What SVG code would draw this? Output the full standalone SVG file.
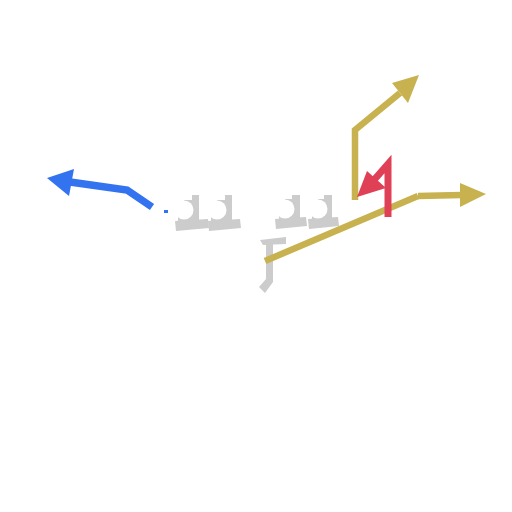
<svg xmlns="http://www.w3.org/2000/svg" width="512" height="512" viewBox="0 0 512 512">
<style>
.g{fill:#cccccc}
.w{fill:#ffffff}
.ln{fill:none;stroke-linejoin:miter;stroke-linecap:butt}
.gold{stroke:#c8b14f;stroke-width:6.5}
.goldf{fill:#c8b14f}
.blue{stroke:#3373f0;stroke-width:7.5}
.bluef{fill:#3373f0}
.red{stroke:#e04055;stroke-width:7}
.redf{fill:#e04055}
</style>
<rect width="512" height="512" fill="#ffffff"/>
<g id="glyphs">
  <g id="block1">
    <rect class="g" x="184" y="200" width="15" height="22"/>
    <rect class="g" x="178" y="214" width="21" height="8"/>
    <rect class="g" x="192" y="195" width="7" height="27"/>
    <polygon class="g" points="175,221 208,219 209,228 176,231"/>
    <circle class="w" cx="184" cy="210" r="9.5"/>
  </g>
  <g id="block2">
    <rect class="g" x="217" y="200" width="15" height="22"/>
    <rect class="g" x="211" y="214" width="21" height="8"/>
    <rect class="g" x="225" y="195" width="7" height="27"/>
    <polygon class="g" points="208,221 240,219 241,228 209,231"/>
    <circle class="w" cx="217" cy="210" r="9.5"/>
  </g>
  <g id="block3">
    <rect class="g" x="285" y="199" width="15" height="21"/>
    <rect class="g" x="279" y="212" width="21" height="8"/>
    <rect class="g" x="292" y="195" width="8" height="25"/>
    <polygon class="g" points="275,219 306,217 307,226 276,229"/>
    <circle class="w" cx="285" cy="209" r="9.5"/>
  </g>
  <g id="block4">
    <rect class="g" x="318" y="199" width="14" height="21"/>
    <rect class="g" x="312" y="212" width="20" height="8"/>
    <rect class="g" x="324" y="195" width="8" height="25"/>
    <polygon class="g" points="308,219 338,217 339,226 309,229"/>
    <circle class="w" cx="318" cy="209" r="9.5"/>
  </g>
  <g id="glyph-f">
    <polygon class="g" points="260,240 286,237 286,244 263,245"/>
    <polygon class="g" points="266,243 273,243 273,282 265,293 259,287 266,279"/>
  </g>
</g>
<g id="connectors">
  <polyline class="ln blue" points="152,207 127,190 70,182"/>
  <polygon class="bluef" points="47,178 74,169 69,196"/>
  <circle class="w" cx="166" cy="217" r="9"/>
  <rect class="bluef" x="164" y="210" width="4" height="3"/>
  <line class="ln gold" x1="265" y1="261" x2="418" y2="196"/>
  <polyline class="ln gold" points="418,196 462,195"/>
  <polygon class="goldf" points="486,194 460,183 460,207"/>
  <polyline class="ln gold" points="355,200 355,130 400,93"/>
  <polygon class="goldf" points="419,75 392,83 408,103"/>
  <polyline class="ln red" points="388,217 388,164 374,180"/>
  <polygon class="redf" points="357,197 367,171 386,188"/>
</g>
</svg>
